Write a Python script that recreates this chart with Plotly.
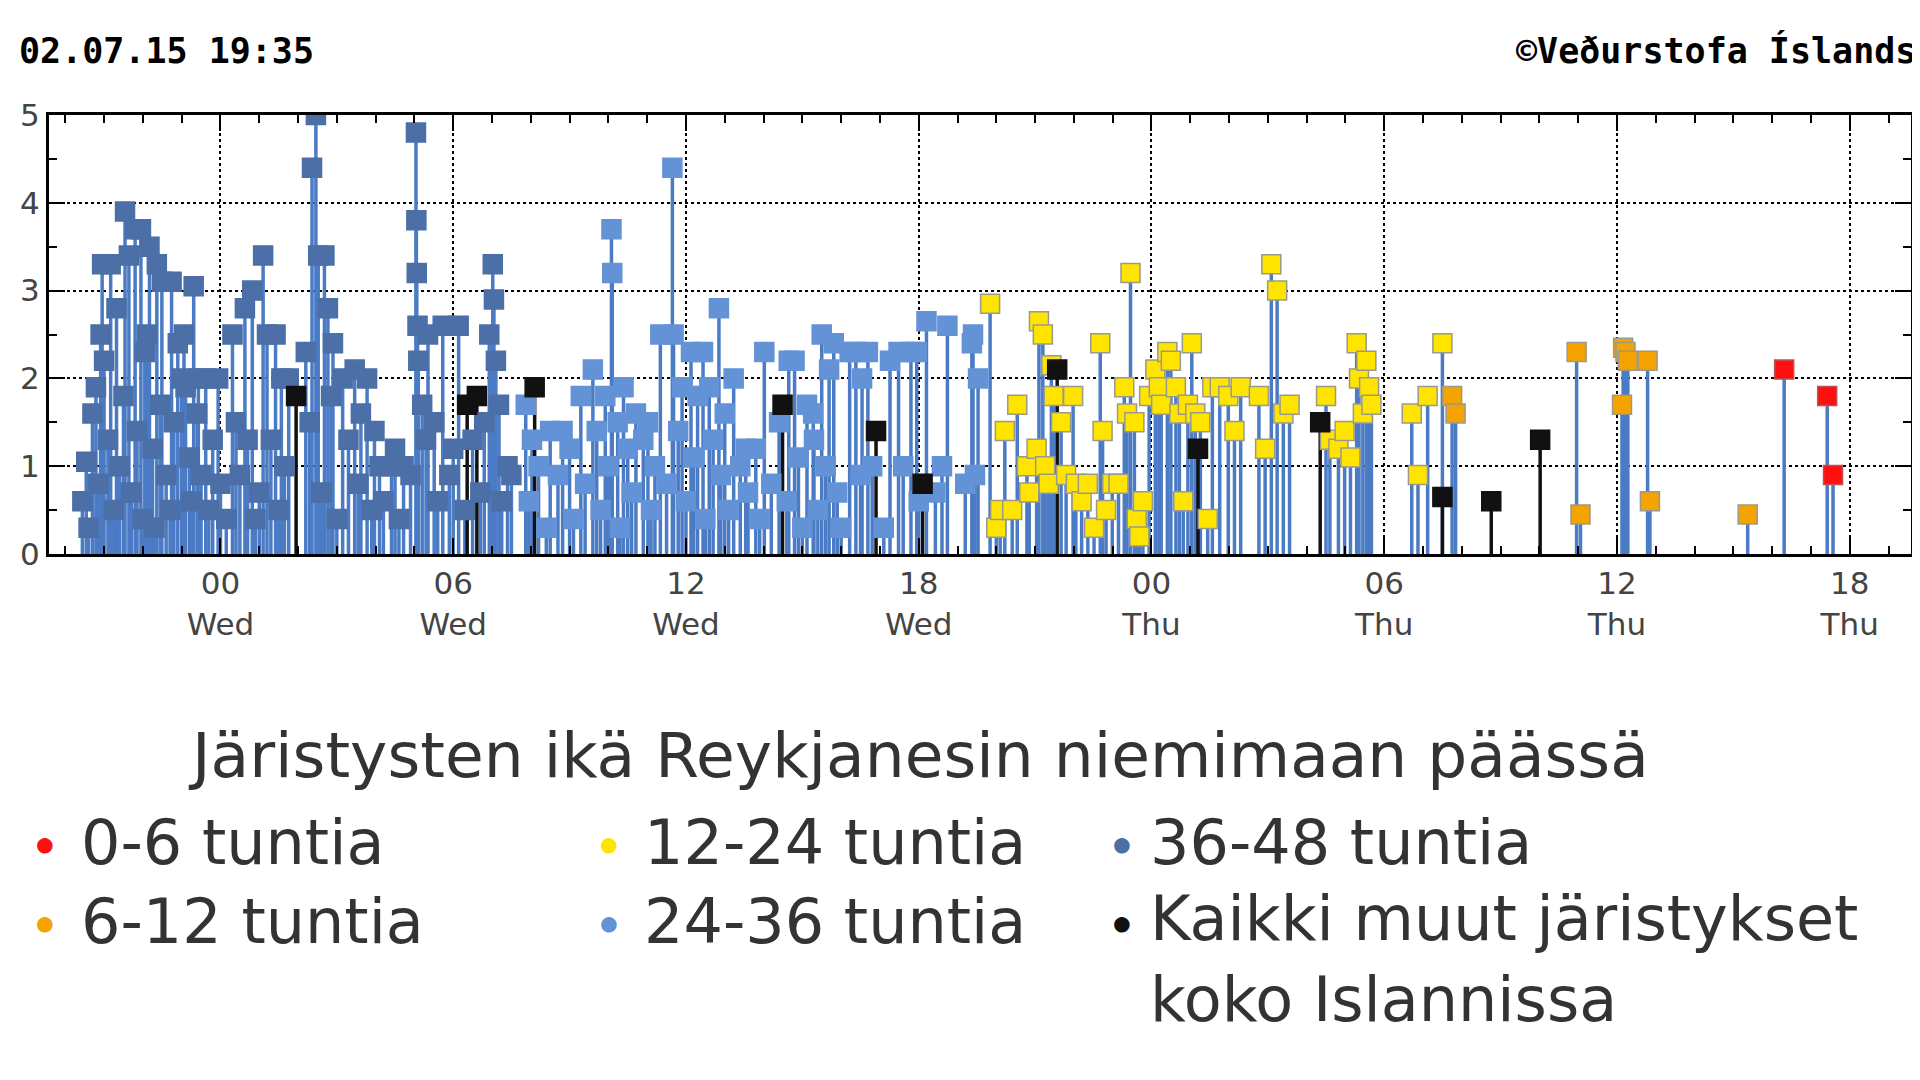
import plotly.graph_objects as go

# hours relative to Wed 00:00, magnitude
# 36-48 tuntia
t_48 = [-3.56, -3.46, -3.21, -3.09, -3.05, -2.83, -2.68, -2.46, -2.36, -2.2, -2.05, -1.89, -1.83,
        -1.64, -1.51, -1.26, -1.1, -0.94, -0.9, -0.69, -0.57, -0.38, -0.06, 0.31, 0.63, 0.82,
        1.1, 1.2, 1.42, 1.57, 1.76,
        -3.4, -3.3, -3.15, -3.0, -2.9, -2.75, -2.6, -2.5, -2.3, -2.15, -2.0, -1.95, -1.75, -1.7,
        -1.55, -1.4, -1.3, -1.2, -1.0, -0.8, -0.75, -0.6, -0.5, -0.3, -0.2, 0.0, 0.15, 0.4, 0.5,
        0.7, 0.9, 1.0, 1.3, 1.5, 1.65,
        2.2, 2.36, 2.46, 2.52, 2.68, 2.77, 2.9, 3.15, 3.46, 3.62, 3.78, 3.97, 4.1, 4.41, 4.72,
        5.04, 5.05, 5.06, 5.08, 5.1, 5.2, 5.35, 5.51, 5.73, 6.14, 6.93, 7.02, 7.05, 7.1, 7.18, 7.4,
        2.3, 2.6, 2.85, 3.0, 3.3, 3.55, 3.9, 4.2, 4.5, 4.6, 4.9, 5.3, 5.6, 5.9, 6.0, 6.3, 6.5,
        6.7, 6.8, 7.25, 7.5]
m_48 = [0.6, 1.05, 1.9, 2.5, 3.3, 3.3, 2.8, 3.9, 3.4, 3.7, 3.7, 2.5, 3.5,
        3.3, 3.1, 3.1, 2.4, 2.5, 1.9, 3.05, 2.0, 2.0, 2.0, 2.5, 2.8, 3.0,
        3.4, 2.5, 2.5, 2.0, 2.0,
        0.3, 1.6, 0.8, 2.2, 1.3, 0.5, 1.0, 1.8, 0.7, 1.4, 0.4, 2.3, 1.2, 0.3,
        1.7, 0.9, 0.5, 1.5, 2.0, 1.1, 0.6, 1.6, 0.9, 0.5, 1.3, 0.8, 0.4, 1.5, 0.9,
        1.3, 0.4, 0.7, 1.3, 0.5, 1.0,
        2.3, 4.4, 5.0, 3.4, 3.4, 2.8, 2.4, 2.0, 2.1, 1.6, 2.0, 1.4, 1.0, 1.0, 1.0,
        4.8, 3.8, 3.2, 2.6, 2.2, 1.7, 2.5, 1.5, 2.6, 2.6, 2.5, 3.3, 2.9, 2.2, 1.7, 1.0,
        1.5, 0.7, 1.8, 0.4, 1.3, 0.8, 0.5, 0.6, 1.2, 0.4, 0.9, 1.3, 0.6, 0.9, 1.2, 0.5, 1.3,
        0.7, 1.5, 0.6, 0.9]

# 24-36 tuntia
t_36 = [7.87, 8.03, 8.5, 8.82, 9.29, 9.6, 9.92, 10.08, 10.1, 10.24, 10.39, 10.71, 11.02, 11.34,
        11.65, 11.68, 11.9, 12.13, 12.44, 12.6, 12.85, 13.23, 13.54, 14.02, 14.65, 14.8, 15.12,
        15.28, 15.5, 15.69, 15.81, 16.22, 16.38, 16.54, 16.69, 17.26, 17.48, 17.8, 17.95, 18.2,
        18.43, 18.74, 19.37, 19.4, 19.53,
        7.95, 8.2, 8.4, 8.7, 9.0, 9.1, 9.4, 9.7, 9.8, 10.0, 10.3, 10.5, 10.6, 10.9, 11.1, 11.2,
        11.5, 11.8, 12.0, 12.2, 12.3, 12.5, 12.7, 12.9, 13.0, 13.1, 13.4, 13.6, 13.8, 13.9, 14.2,
        14.4, 14.6, 14.9, 15.0, 15.3, 15.4, 15.6, 15.9, 16.0, 16.5, 16.8, 17.1, 17.6, 18.0, 18.6,
        19.2, 19.45]
m_36 = [1.7, 1.3, 1.4, 1.4, 1.8, 2.1, 1.8, 3.7, 3.2, 1.5, 1.9, 1.6, 1.5, 2.5,
        4.4, 2.5, 1.9, 2.3, 2.3, 1.9, 2.8, 2.0, 1.2, 2.3, 2.2, 2.2, 1.7,
        1.6, 2.5, 2.1, 2.4, 2.3, 2.3, 2.0, 2.3, 2.2, 2.3, 2.3, 2.3, 2.65,
        0.7, 2.6, 2.4, 2.5, 2.0,
        0.6, 1.0, 0.3, 0.9, 1.2, 0.4, 0.8, 1.4, 0.5, 1.0, 0.3, 1.2, 0.7, 1.3, 0.5, 1.0,
        0.8, 1.4, 0.6, 1.1, 1.8, 0.4, 1.3, 0.9, 1.6, 0.5, 1.0, 0.7, 1.2, 0.4, 0.8,
        1.5, 0.6, 1.1, 0.3, 1.3, 0.5, 1.0, 0.7, 0.3, 0.9, 1.0, 0.3, 1.0, 0.6, 1.0,
        0.8, 0.9]

# 12-24 tuntia
t_24 = [19.84, 20.0, 20.1, 20.22, 20.41, 20.54, 20.79, 20.85, 21.04, 21.1, 21.2, 21.26, 21.35,
        21.42, 21.48, 21.67, 21.8, 21.98, 22.05, 22.2, 22.36, 22.52, 22.68, 22.74, 22.83,
        22.99, 23.15, 23.3, 23.37, 23.46, 23.56, 23.62, 23.69, 23.78, 23.94, 24.1, 24.19, 24.25,
        24.41, 24.5, 24.63, 24.72, 24.82, 24.94, 25.04, 25.13, 25.26, 25.45, 25.57, 25.76,
        25.98, 26.14, 26.3, 26.77, 26.93, 27.09, 27.24, 27.4, 27.56, 28.5, 28.6, 28.82, 28.98,
        29.13, 29.29, 29.35, 29.45, 29.54, 29.61, 29.67, 30.71, 30.87, 31.12, 31.5]
m_24 = [2.85, 0.3, 0.5, 1.4, 0.5, 1.7, 1.0, 0.7, 1.2, 2.65, 2.5, 1.0, 0.8,
        2.15, 1.8, 1.5, 0.9, 1.8, 0.8, 0.6, 0.8, 0.3, 2.4, 1.4, 0.5,
        0.8, 0.8, 1.9, 1.6, 3.2, 1.5, 0.4, 0.2, 0.6, 1.8, 2.1, 1.9, 1.7,
        2.3, 2.2, 1.9, 1.6, 0.6, 1.7, 2.4, 1.6, 1.5, 0.4, 1.9, 1.9,
        1.8, 1.4, 1.9, 1.8, 1.2, 3.3, 3.0, 1.6, 1.7, 1.8, 1.3, 1.2, 1.4,
        1.1, 2.4, 2.0, 1.6, 2.2, 1.9, 1.7, 1.6, 0.9, 1.8, 2.4]

# 6-12 tuntia
t_12 = [31.75, 31.84, 34.96, 35.06, 36.13, 36.16, 36.22, 36.28, 36.79, 36.85, 39.37]
m_12 = [1.8, 1.6, 2.3, 0.45, 1.7, 2.35, 2.3, 2.2, 2.2, 0.6, 0.45]

# 0-6 tuntia
t_6 = [40.31, 41.42, 41.57]
m_6 = [2.1, 1.8, 0.9]

# Kaikki muut
t_all = [1.95, 6.36, 6.61, 8.1, 14.49, 16.9, 18.1, 21.57, 25.2, 28.35, 31.5, 32.76, 34.02]
m_all = [1.8, 1.7, 1.8, 1.9, 1.7, 1.4, 0.8, 2.1, 1.2, 1.5, 0.65, 0.6, 1.3]

tick_vals = [0, 6, 12, 18, 24, 30, 36, 42]
tick_text = ["00<br>Wed", "06<br>Wed", "12<br>Wed", "18<br>Wed",
             "00<br>Thu", "06<br>Thu", "12<br>Thu", "18<br>Thu"]

legend_labels = ["0-6 tuntia", "6-12 tuntia", "12-24 tuntia", "24-36 tuntia",
                 "36-48 tuntia", "Kaikki muut järistykset<br>koko Islannissa"]

STEM = "#4a7bc4"

def stems(ts, ms):
    xs, ys = [], []
    for t, m in zip(ts, ms):
        xs += [t, t, None]
        ys += [0, m, None]
    return xs, ys

fig = go.Figure()

for ts, ms, col in [(t_48, m_48, STEM), (t_36, m_36, STEM), (t_24, m_24, STEM),
                    (t_12, m_12, STEM), (t_6, m_6, STEM), (t_all, m_all, "#111111")]:
    sx, sy = stems(ts, ms)
    fig.add_trace(go.Scatter(x=sx, y=sy, mode="lines", line=dict(color=col, width=3.5),
                             showlegend=False, hoverinfo="skip"))

series = [
    (t_48, m_48, "#4b6fa6", "#4b6fa6"),
    (t_36, m_36, "#6393d6", "#6393d6"),
    (t_24, m_24, "#ffe400", "#9a9a8a"),
    (t_12, m_12, "#f5a300", "#9a9a8a"),
    (t_6, m_6, "#ff1010", "#c05050"),
    (t_all, m_all, "#111111", "#111111"),
]
for ts, ms, fc, lc in series:
    fig.add_trace(go.Scatter(
        x=ts, y=ms, mode="markers", showlegend=False,
        marker=dict(symbol="square", size=19, color=fc, line=dict(color=lc, width=1.5)),
    ))

fig.update_xaxes(
    range=[-4.42, 43.58], tickvals=tick_vals, ticktext=tick_text,
    ticks="inside", ticklen=16, tickwidth=2, tickcolor="black",
    minor=dict(dtick=1, tick0=0, ticks="inside", ticklen=8, tickwidth=2, tickcolor="black"),
    showgrid=True, gridcolor="black", griddash="dot", gridwidth=2,
    showline=True, linecolor="black", linewidth=3, mirror="ticks", zeroline=False,
    tickfont=dict(family="DejaVu Sans", size=31, color="#444444"),
)
fig.update_yaxes(
    range=[0, 5], dtick=1, ticks="inside", ticklen=16, tickwidth=2, tickcolor="black",
    minor=dict(dtick=0.5, ticks="inside", ticklen=8, tickwidth=2, tickcolor="black"),
    showgrid=True, gridcolor="black", griddash="dot", gridwidth=2,
    showline=True, linecolor="black", linewidth=3, mirror="ticks", zeroline=False,
    tickfont=dict(family="DejaVu Sans", size=31, color="#444444"),
)

fig.add_annotation(text="<b>02.07.15 19:35</b>", xref="paper", yref="paper",
                   x=-0.017, y=1.146, xanchor="left", yanchor="middle", showarrow=False,
                   font=dict(family="DejaVu Sans Mono", size=35, color="black"))
fig.add_annotation(text="<b>©Veðurstofa Íslands</b>", xref="paper", yref="paper",
                   x=1.004, y=1.146, xanchor="right", yanchor="middle", showarrow=False,
                   font=dict(family="DejaVu Sans Mono", size=35, color="black"))
fig.add_annotation(text="Järistysten ikä Reykjanesin niemimaan päässä", xref="paper",
                   yref="paper", x=0.467, y=-0.46, xanchor="center", yanchor="middle",
                   showarrow=False, font=dict(family="DejaVu Sans", size=63, color="#333333"))

# legend built from annotations: 3 columns x 2 rows
leg_colors = ["#ff1010", "#f5a300", "#ffe400", "#6393d6", "#4b6fa6", "#111111"]
col_mark = [-0.002, 0.3005, 0.5765]
col_text = [0.016, 0.3187, 0.5903]
row_y = [-0.658, -0.838]
for i, (lab, c) in enumerate(zip(legend_labels, leg_colors)):
    col, row = i // 2, i % 2
    fig.add_annotation(text="●", xref="paper", yref="paper", x=col_mark[col], y=row_y[row],
                       xanchor="center", yanchor="middle", showarrow=False,
                       font=dict(size=36, color=c))
    fig.add_annotation(text=lab, xref="paper", yref="paper", x=col_text[col], y=row_y[row],
                       xanchor="left", yanchor="top" if "<br>" in lab else "middle",
                       yshift=42 if "<br>" in lab else 0,
                       align="left", showarrow=False,
                       font=dict(family="DejaVu Sans", size=62, color="#333333"))

fig.update_layout(
    width=1920, height=1080,
    margin=dict(l=31, r=17, t=107, b=534),
    plot_bgcolor="white", paper_bgcolor="white",
    showlegend=False,
)

fig.write_html("out.html")
